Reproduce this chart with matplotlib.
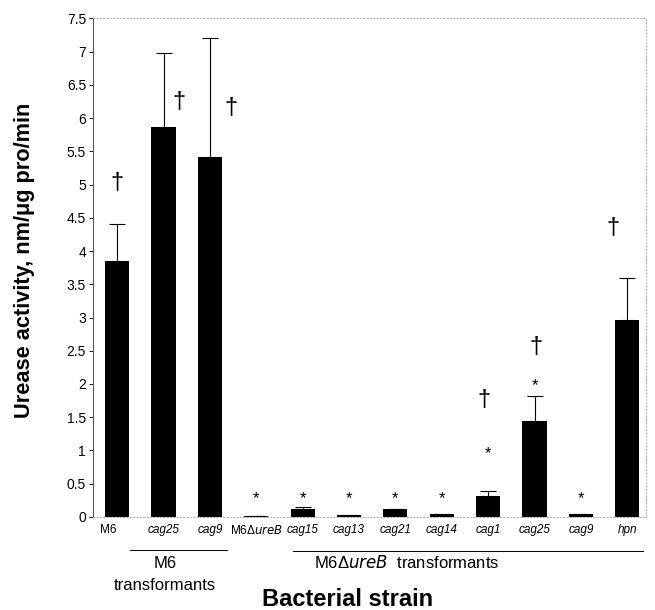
import matplotlib
matplotlib.use("Agg")
import matplotlib.pyplot as plt
import numpy as np

plt.rcParams['font.family'] = ['Liberation Sans', 'DejaVu Sans']

strains = ["M6", "cag25", "cag9", "M6ΔureB", "cag15", "cag13", "cag21",
           "cag14", "cag1", "cag25", "cag9", "hpn"]
italic = [False, True, True, False, True, True, True, True, True, True, True, True]
values = [3.85, 5.87, 5.42, 0.01, 0.12, 0.03, 0.12, 0.04, 0.31, 1.45, 0.04, 2.96]
err_hi = [0.55, 1.11, 1.78, 0.0, 0.03, 0.0, 0.0, 0.01, 0.08, 0.37, 0.01, 0.64]
asterisk_y = [None, None, None, 0.28, 0.28, 0.28, 0.28, 0.28, 0.95, 1.98, 0.28, None]
dagger_y = [5.02, 6.24, 6.15, None, None, None, None, None, 1.76, 2.56, None, 4.35]
dagger_dx = [0.0, 0.33, 0.45, 0, 0, 0, 0, 0, -0.1, 0.03, 0, -0.3]
label_dx = [-0.2, 0, 0, 0, 0, 0, 0, 0, 0, 0, 0, 0]

fig = plt.figure(figsize=(6.55, 6.1), dpi=100)
ax = fig.add_axes([0.142, 0.1525, 0.844, 0.8175])
x = np.arange(len(values))
ax.bar(x, values, width=0.52, color='black', zorder=2)
ax.errorbar(x, values, yerr=[np.zeros(len(values)), err_hi], fmt='none',
            ecolor='black', elinewidth=0.8, capsize=5.5, capthick=0.8, zorder=1)

for i in range(len(values)):
    if asterisk_y[i] is not None:
        ax.text(x[i], asterisk_y[i], "*", ha='center', va='center', fontsize=12)
    if dagger_y[i] is not None:
        ax.text(x[i] + dagger_dx[i], dagger_y[i], "†", ha='center', va='center', fontsize=17)

ax.set_xlim(-0.52, 11.4)
ax.set_ylim(0, 7.5)
yt = np.arange(0, 7.51, 0.5)
ax.set_yticks(yt)
ax.set_yticklabels([f"{v:g}" for v in yt], fontsize=10)
ax.set_xticks(x)
ax.set_xticklabels([])
ax.tick_params(axis='y', length=3, width=0.6, pad=2)
ax.tick_params(axis='x', length=0)
for i, s in enumerate(strains):
    if s == "M6ΔureB":
        ax.text(x[i] + label_dx[i], -0.2, "M6Δ$\\it{ureB}$", ha='center', va='center', fontsize=8.5)
    else:
        ax.text(x[i] + label_dx[i], -0.2, s, ha='center', va='center', fontsize=8.5,
                style='italic' if italic[i] else 'normal')

ax.spines['left'].set_color('#555555')
ax.spines['left'].set_linewidth(0.8)
for sp in ['top', 'right', 'bottom']:
    ax.spines[sp].set_color('#aaaaaa')
    ax.spines[sp].set_linestyle((0, (2, 2)))
    ax.spines[sp].set_linewidth(0.6)

# group lines
fig.add_artist(plt.Line2D([130/655, 227/655], [1-550/610, 1-550/610], color='black', lw=0.7))
fig.add_artist(plt.Line2D([293/655, 643/655], [1-551/610, 1-551/610], color='black', lw=0.7))
fig.text(165/655, 1-563/610, "M6", ha='center', va='center', fontsize=12)
fig.text(165/655, 1-585/610, "transformants", ha='center', va='center', fontsize=12)
fig.text(407/655, 1-563/610, "M6Δ$\\it{ureB}$  transformants", ha='center', va='center', fontsize=12)

fig.text(348/655, 1-600/610, "Bacterial strain", ha='center', va='center',
         fontsize=17, fontweight='bold')
fig.text(25/655, 1-260/610, "Urease activity, nm/μg pro/min", ha='center', va='center',
         fontsize=15.7, fontweight='bold', rotation=90)

fig.savefig("out.png", dpi=100)
